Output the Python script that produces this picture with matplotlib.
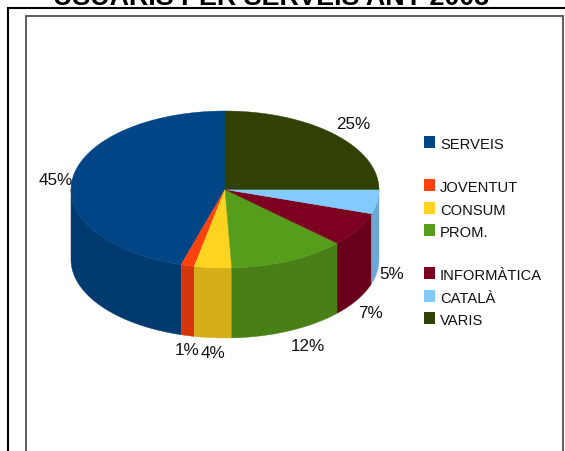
import numpy as np
import matplotlib
matplotlib.use("Agg")
import matplotlib.pyplot as plt

plt.rcParams['font.family'] = ['Liberation Sans', 'DejaVu Sans']

title = "USUARIS PER SERVEIS ANY 2003"
services = ["SERVEIS", "JOVENTUT", "CONSUM", "PROM.", "INFORMÀTICA", "CATALÀ", "VARIS"]
shares = [45.4, 1.4, 3.9, 12.3, 7.0, 5.0, 25.0]

top_colors = ["#004586", "#ff420e", "#ffd320", "#579d1c", "#7e0021", "#83caff", "#314004"]
side_colors = ["#003a6f", "#d4370c", "#d4af1a", "#487f17", "#69001b", "#6da8d4", "#283503"]

# pie geometry, in pixels of the 565x452 picture
cx, cy = 225, 190.5
rx, ry = 154, 78.5
depth = 70

# nudges of the percent labels from the rim of their slice
label_nudge = [(-17, 0), (-1, 12), (0, 13), (19, 13), (13, 12), (15, 0), (19, -12)]
legend_y = [143, 185.5, 209, 231, 273.5, 296.5, 319]


def rim(angles):
    return cx + rx * np.cos(np.radians(angles)), cy + ry * np.sin(np.radians(angles))


fig = plt.figure(figsize=(5.65, 4.52), dpi=100)
ax = fig.add_axes([0, 0, 1, 1])
ax.set_xlim(0, 565)
ax.set_ylim(452, 0)
ax.axis("off")

# frames, both run off the picture
ax.plot([8.3, 8.3, 570], [460, 9.3, 9.3], color="black", lw=1.5, solid_joinstyle="miter")
ax.plot([25.8, 25.8, 563.2, 563.2], [460, 17, 17, 460], color="#505050", lw=1.3,
        solid_joinstyle="miter")

ax.text(271.5, 5, title, fontsize=19.4, fontweight="bold", ha="center", va="baseline")

# slices run counter-clockwise on screen from 12 o'clock
edges = 270 - np.cumsum([0] + shares) * 3.6

# walls first, the top faces cover their upper edge
for i in range(len(shares)):
    hi = min(edges[i], 180)
    lo = max(edges[i + 1], 0)
    if hi > lo:
        a = np.linspace(lo, hi, 60)
        x, y = rim(a)
        ax.fill(np.r_[x, x[::-1]], np.r_[y, y[::-1] + depth], color=side_colors[i], lw=0.3)

for i in range(len(shares)):
    a = np.linspace(edges[i + 1], edges[i], 120)
    x, y = rim(a)
    ax.fill(np.r_[cx, x], np.r_[cy, y], color=top_colors[i], lw=0.3)

for i, share in enumerate(shares):
    mid = (edges[i] + edges[i + 1]) / 2
    x, y = rim(mid)
    if np.sin(np.radians(mid)) > 0:
        y += depth
    ax.text(x + label_nudge[i][0], y + label_nudge[i][1], "%d%%" % round(share),
            fontsize=12.3, ha="center", va="center_baseline", color="#111111")

for name, color, y in zip(services, top_colors, legend_y):
    ax.fill([424, 435, 435, 424], [y - 6, y - 6, y + 6, y + 6], color=color, lw=0)
    ax.text(440, y + 1, name, fontsize=10.6, ha="left", va="center_baseline", color="#111111")

fig.savefig("out.png", dpi=100)
